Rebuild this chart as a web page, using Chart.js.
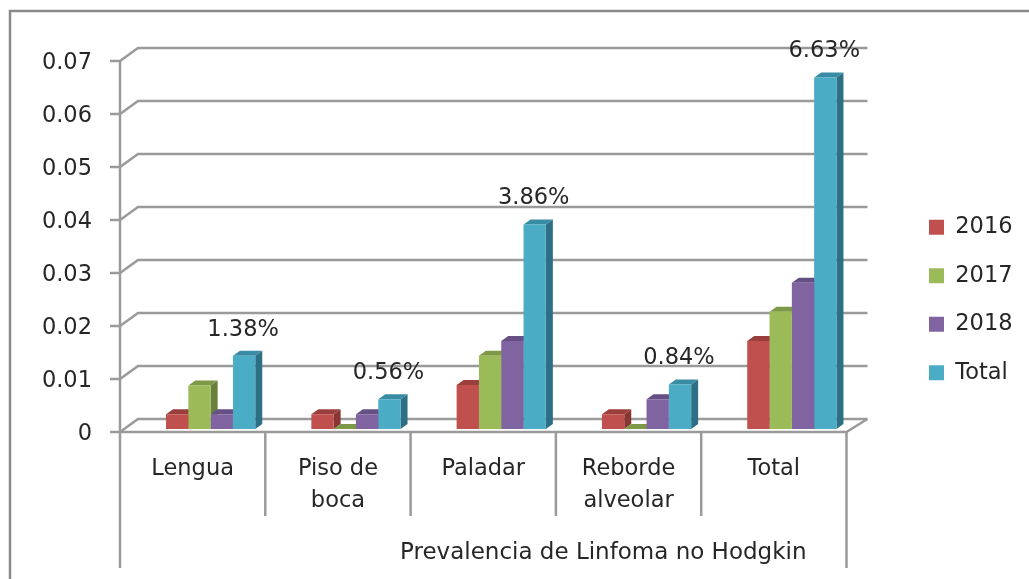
<!DOCTYPE html>
<html>
<head>
<meta charset="utf-8">
<title>Prevalencia de Linfoma no Hodgkin</title>
<script src="https://cdn.jsdelivr.net/npm/chart.js@4"></script>
<style>
    body { margin: 0; background: #fff; }
    canvas { display: block; }
</style>
</head>
<body>
<canvas id="myChart" width="1029" height="579"></canvas>
<script>
const categorias = ['Lengua', ['Piso de', 'boca'], 'Paladar', ['Reborde', 'alveolar'], 'Total']
const tituloEje = 'Prevalencia de Linfoma no Hodgkin'
const series = ['2016', '2017', '2018', 'Total']
const valores2016 = [0.0028, 0.0028, 0.0083, 0.0028, 0.0166]
const valores2017 = [0.0082, 0, 0.0138, 0, 0.0221]
const valores2018 = [0.0028, 0.0028, 0.0166, 0.0056, 0.0276]
const valoresTotal = [0.0138, 0.0056, 0.0386, 0.0084, 0.0663]
const colorFrente = ['#C0504D', '#9BBB59', '#8064A2', '#4BACC6']
const colorTapa = ['#9a3f3c', '#7d9847', '#665083', '#3a8ca4']
const colorLado = ['#873633', '#69803a', '#553f70', '#2d7086']

const fuente = { family: '"DejaVu Sans"', size: 22.5 }
const colorTexto = '#262626'
const colorLinea = '#9a9a9a'

// desplazamiento de la pared del fondo y del piso respecto al plano de las barras
const fondoY = -10
const frenteY = 3
const frenteX = -18
const profX = 7
const profY = 5

const efecto3d = {
    id: 'efecto3d',
    afterLayout(chart) {
        // la leyenda va separada del area del grafico
        chart.legend.left = 903
        chart.legend.right = 1029
        chart.legend.width = 126
        chart.legend.top = 190
        chart.legend.bottom = 440
        chart.legend.height = 250
        chart.legend.adjustHitBoxes()
    },
    beforeDatasetsDraw(chart) {
        const ctx = chart.ctx
        const x = chart.scales.x
        const y = chart.scales.y
        const izq = chart.chartArea.left
        const der = chart.chartArea.right

        ctx.save()
        // marco del grafico
        ctx.strokeStyle = '#8a8a8a'
        ctx.lineWidth = 2.5
        ctx.strokeRect(10, 11, 1100, 700)

        ctx.strokeStyle = colorLinea
        ctx.lineWidth = 2.5
        // rejilla con su tramo inclinado y marca del eje
        for (const tick of y.ticks) {
            const py = y.getPixelForValue(tick.value)
            ctx.beginPath()
            ctx.moveTo(izq + frenteX - 10, py + frenteY)
            ctx.lineTo(izq + frenteX, py + frenteY)
            ctx.lineTo(izq, py + fondoY)
            ctx.lineTo(der + 3, py + fondoY)
            ctx.stroke()
        }
        // piso
        const py0 = y.getPixelForValue(0)
        ctx.beginPath()
        ctx.moveTo(izq + frenteX, py0 + frenteY)
        ctx.lineTo(der + frenteX, py0 + frenteY)
        ctx.lineTo(der + 3, py0 + fondoY)
        ctx.stroke()
        // eje vertical
        ctx.beginPath()
        ctx.moveTo(izq + frenteX, y.getPixelForValue(0.07) + frenteY)
        ctx.lineTo(izq + frenteX, 568)
        ctx.moveTo(der + frenteX, py0 + frenteY)
        ctx.lineTo(der + frenteX, 568)
        ctx.stroke()
        // separadores de categorias
        const ancho = x.width / categorias.length
        for (let i = 1; i < categorias.length; i++) {
            const px = x.getPixelForTick(i) - ancho / 2 + frenteX
            ctx.beginPath()
            ctx.moveTo(px, py0 + frenteY)
            ctx.lineTo(px, 516)
            ctx.stroke()
        }

        // caras laterales y tapas, de izquierda a derecha
        for (let j = 0; j < categorias.length; j++) {
            chart.data.datasets.forEach((ds, s) => {
                const barra = chart.getDatasetMeta(s).data[j]
                const a = barra.x - barra.width / 2
                const b = barra.x + barra.width / 2
                ctx.fillStyle = colorLado[s]
                ctx.beginPath()
                ctx.moveTo(b, barra.y)
                ctx.lineTo(b + profX, barra.y - profY)
                ctx.lineTo(b + profX, barra.base - profY)
                ctx.lineTo(b, barra.base)
                ctx.fill()
                ctx.fillStyle = colorTapa[s]
                ctx.beginPath()
                ctx.moveTo(a, barra.y)
                ctx.lineTo(a + profX, barra.y - profY)
                ctx.lineTo(b + profX, barra.y - profY)
                ctx.lineTo(b, barra.y)
                ctx.fill()
            })
        }
        ctx.restore()
    },
    afterDatasetsDraw(chart) {
        const ctx = chart.ctx
        const x = chart.scales.x
        ctx.save()
        ctx.font = fuente.size + 'px ' + fuente.family
        ctx.fillStyle = colorTexto
        ctx.textAlign = 'center'
        ctx.textBaseline = 'middle'
        // etiquetas de la serie Total
        chart.getDatasetMeta(3).data.forEach((barra, i) => {
            ctx.fillText((valoresTotal[i] * 100).toFixed(2) + '%', barra.x - 1, barra.y - 26)
        })
        ctx.font = '23px ' + fuente.family
        ctx.fillText(tituloEje, x.getPixelForTick(2) + frenteX + 120, 553)
        ctx.restore()
    }
}

function generarGrafico() {
    const grafico = document.getElementById('myChart')
    const listas = [valores2016, valores2017, valores2018, valoresTotal]
    new Chart(grafico, {
        type: 'bar',
        data: {
            labels: categorias,
            datasets: series.map((nombre, i) => ({
                label: nombre,
                data: listas[i],
                backgroundColor: colorFrente[i],
                borderWidth: 0,
                barPercentage: 1,
                categoryPercentage: 0.614
            }))
        },
        plugins: [efecto3d],
        options: {
            responsive: false,
            animation: false,
            layout: { padding: { top: 58, right: 45, left: 0, bottom: 0 } },
            plugins: {
                tooltip: { enabled: false },
                legend: {
                    position: 'right',
                    align: 'start',
                    labels: {
                        boxWidth: 15,
                        boxHeight: 15,
                        padding: 26,
                        color: colorTexto,
                        font: fuente
                    }
                }
            },
            scales: {
                x: {
                    grid: { display: false },
                    border: { display: false },
                    afterFit(scale) { scale.height = 150 },
                    ticks: {
                        autoSkip: false,
                        maxRotation: 0,
                        labelOffset: frenteX,
                        padding: 16,
                        color: colorTexto,
                        font: Object.assign({ lineHeight: 1.43 }, fuente)
                    }
                },
                y: {
                    min: 0,
                    max: 0.07,
                    grid: { display: false },
                    border: { display: false },
                    afterFit(scale) { scale.width = 138 },
                    ticks: {
                        stepSize: 0.01,
                        padding: 38,
                        labelOffset: 5,
                        color: colorTexto,
                        font: fuente,
                        callback: valor => String(Math.round(valor * 100) / 100)
                    }
                }
            }
        }
    })
}

generarGrafico()
</script>
</body>
</html>
